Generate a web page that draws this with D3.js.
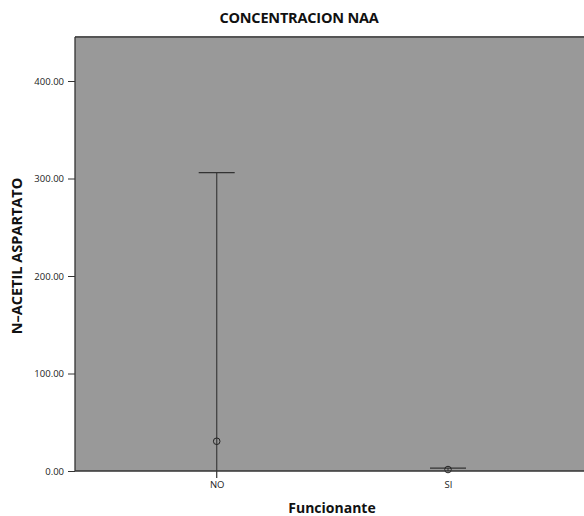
<!DOCTYPE html>
<html><head><meta charset="utf-8">
<script src="https://cdn.jsdelivr.net/npm/d3@7"></script>
<style>body{margin:0;background:#fff;overflow:hidden}svg{display:block}</style>
</head><body>
<script>
const categories = ["NO", "SI"];
const means = [30.5, 1.5];
const upper = [306, 3.0];
const lower = [-245, 0];
const yTicks = [0, 100, 200, 300, 400];
const title = "CONCENTRACION NAA";
const yTitle = "N\u2013ACETIL ASPARTATO";
const xTitle = "Funcionante";

(function () {
const W = 584, H = 516;
const pL = 75, pT = 37, pB = 471, pR = 600;
const svg = d3.select("body").append("svg").attr("width", W).attr("height", H);
const font = "'Open Sans', 'DejaVu Sans', sans-serif";

const y = d3.scaleLinear().domain([0, 400]).range([pB, 81]);
const x = d3.scalePoint().domain(categories).range([216.7, 448]);

svg.append("rect").attr("x", pL).attr("y", pT).attr("width", pR - pL).attr("height", pB - pT)
  .attr("fill", "#999999");
svg.append("line").attr("x1", pL).attr("x2", pR).attr("y1", pT).attr("y2", pT)
  .attr("stroke", "#555").attr("stroke-width", 2);

svg.append("defs").append("clipPath").attr("id", "clip").append("rect")
  .attr("x", pL).attr("y", pT).attr("width", pR - pL).attr("height", pB - pT + 7);

const g = svg.append("g").attr("clip-path", "url(#clip)");
categories.forEach((c, i) => {
  const cx = x(c);
  g.append("line").attr("x1", cx).attr("x2", cx).attr("y1", y(upper[i])).attr("y2", y(lower[i]))
    .attr("stroke", "#444").attr("stroke-width", 1.3);
  g.append("line").attr("x1", cx - 18).attr("x2", cx + 18).attr("y1", y(upper[i])).attr("y2", y(upper[i]))
    .attr("stroke", "#333").attr("stroke-width", 1.3);
  g.append("circle").attr("cx", cx).attr("cy", y(means[i])).attr("r", 3.3)
    .attr("fill", "none").attr("stroke", "#222").attr("stroke-width", 1);
});

const ya = svg.append("g").attr("transform", `translate(${pL},0)`)
  .call(d3.axisLeft(y).tickValues(yTicks).tickSize(7).tickFormat(d3.format(".2f")));
ya.select(".domain").attr("d", `M0,${pT}V${pB}`).attr("stroke", "#333").attr("stroke-width", 1.3);
ya.selectAll(".tick line").attr("stroke", "#333");
ya.selectAll(".tick text").attr("font-family", font).attr("font-size", 9.5).attr("fill", "#222").attr("x", -11);

svg.append("line").attr("x1", pL).attr("x2", pR).attr("y1", pB).attr("y2", pB)
  .attr("stroke", "#333").attr("stroke-width", 1.3);
const xa = svg.append("g").attr("transform", `translate(0,${pB})`)
  .call(d3.axisBottom(x).tickSize(0).tickPadding(10));
xa.select(".domain").remove();
xa.selectAll(".tick text").attr("font-family", font).attr("font-size", 9.5).attr("fill", "#222");

svg.append("text").attr("x", 299).attr("y", 23).attr("text-anchor", "middle")
  .attr("font-family", font).attr("font-weight", "bold").attr("font-size", 14.5).attr("fill", "#111")
  .attr("letter-spacing", -0.2).text(title);
svg.append("text").attr("transform", "translate(22,256) rotate(-90)").attr("text-anchor", "middle")
  .attr("font-family", font).attr("font-weight", "bold").attr("font-size", 14.5).attr("fill", "#111")
  .text(yTitle);
svg.append("text").attr("x", 332).attr("y", 513).attr("text-anchor", "middle")
  .attr("font-family", font).attr("font-weight", "bold").attr("font-size", 14).attr("fill", "#111")
  .text(xTitle);
})();
</script>
</body></html>
